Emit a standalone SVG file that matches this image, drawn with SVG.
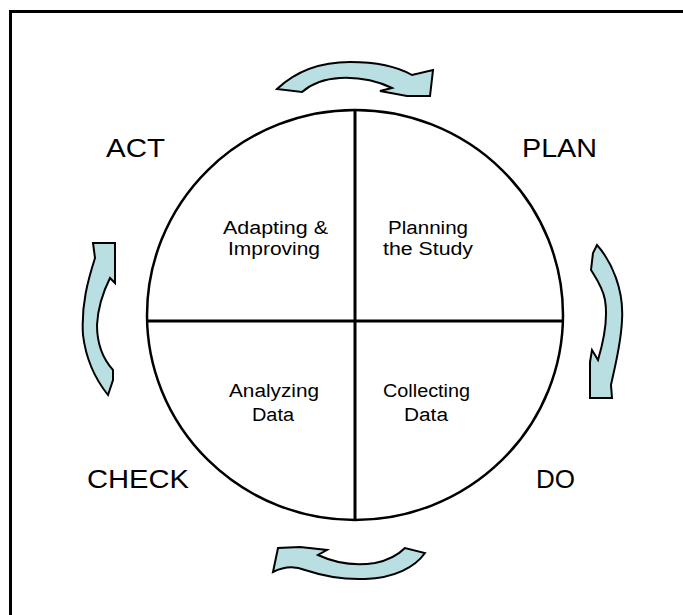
<svg xmlns="http://www.w3.org/2000/svg" width="683" height="615" viewBox="0 0 683 615">
<style>
.lbl{font-family:"Liberation Sans",Arial,sans-serif;fill:#000;}
.big{font-size:26px;}
.sm{font-size:18px;}
.arr{fill:#b9dfe3;stroke:#000;stroke-width:2;stroke-linejoin:miter;}
.ln{stroke:#000;stroke-width:3;fill:none;}
</style>
<rect x="0" y="0" width="683" height="615" fill="#fff"/>
<rect x="10.5" y="11.5" width="700" height="700" fill="none" stroke="#000" stroke-width="3"/>
<g id="cycle">
<ellipse cx="355" cy="315" rx="208" ry="205" fill="none" stroke="#000" stroke-width="2.5"/>
<line class="ln" x1="355" y1="110" x2="355" y2="520"/>
<line class="ln" x1="146" y1="321" x2="563" y2="321"/>
</g>
<g id="quad-act"><text class="lbl sm" x="223" y="234" textLength="105" lengthAdjust="spacingAndGlyphs">Adapting &amp;</text><text class="lbl sm" x="228" y="255" textLength="92" lengthAdjust="spacingAndGlyphs">Improving</text></g>
<g id="quad-plan"><text class="lbl sm" x="388" y="234" textLength="80" lengthAdjust="spacingAndGlyphs">Planning</text><text class="lbl sm" x="383" y="255" textLength="90" lengthAdjust="spacingAndGlyphs">the Study</text></g>
<g id="quad-check"><text class="lbl sm" x="229" y="397" textLength="90" lengthAdjust="spacingAndGlyphs">Analyzing</text><text class="lbl sm" x="252" y="421" textLength="42" lengthAdjust="spacingAndGlyphs">Data</text></g>
<g id="quad-do"><text class="lbl sm" x="383" y="397" textLength="87" lengthAdjust="spacingAndGlyphs">Collecting</text><text class="lbl sm" x="404" y="421" textLength="44" lengthAdjust="spacingAndGlyphs">Data</text></g>
<g id="act"><text class="lbl big" x="106" y="157" textLength="59" lengthAdjust="spacingAndGlyphs">ACT</text></g>
<g id="plan"><text class="lbl big" x="522" y="157" textLength="75" lengthAdjust="spacingAndGlyphs">PLAN</text></g>
<g id="check"><text class="lbl big" x="87" y="488" textLength="102" lengthAdjust="spacingAndGlyphs">CHECK</text></g>
<g id="do"><text class="lbl big" x="536" y="488" textLength="39" lengthAdjust="spacingAndGlyphs">DO</text></g>
<g id="connectors">
<path class="arr" d="M277,89 C295,72 320,62 350,62 C378,62 398,67 412,75 L433,70 L430,96 L407,96 L380,91 L392,88 C375,80 360,77 340,78 C322,79 310,85 302,92 Z"/>
<path class="arr" d="M597,245 C612,262 624,290 622,320 C621,345 614,370 611,385 L612,398 L590,398 L590,362 L592,350 L598,360 C604,340 608,318 605,300 C603,288 596,278 591,270 L593,253 Z"/>
<path class="arr" d="M273,572 L278,548 L300,547 L327,550 L318,555 C335,563 355,566 375,563 C390,560 400,553 405,548 L425,553 C415,567 395,578 365,579 C340,580 320,575 305,570 C295,566 285,566 273,572 Z"/>
<path class="arr" d="M93,243 L115,243 L115,283 L110,278 C104,290 98,305 97,325 C97,345 104,360 113,370 L113,380 L108,395 C96,380 86,360 83,335 C81,305 88,280 95,258 Z"/>
</g>
</svg>
